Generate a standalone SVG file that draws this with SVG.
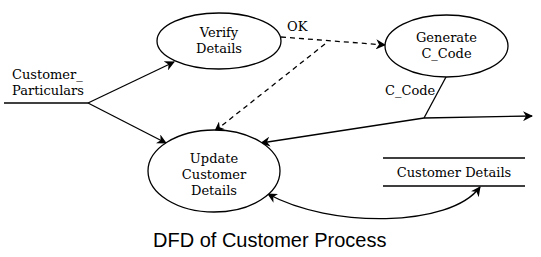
<svg xmlns="http://www.w3.org/2000/svg" width="541" height="257" viewBox="0 0 541 257">
<style>
.n{fill:#fff;stroke:#000;stroke-width:1.3}
.t{font-family:"DejaVu Serif","Liberation Serif",serif;font-size:13px;fill:#000;text-anchor:middle}
.l{font-family:"DejaVu Serif","Liberation Serif",serif;font-size:13px;fill:#000}
.c{fill:none;stroke:#000;stroke-width:1.3}
.d{stroke-dasharray:5,4}
</style>
<defs>
<marker id="a" viewBox="0 0 10 10" refX="9" refY="5" markerWidth="10" markerHeight="10" markerUnits="userSpaceOnUse" orient="auto-start-reverse">
<path d="M0,0 L10,5 L0,10 L3,5 z" fill="#000"/>
</marker>
</defs>
<rect width="541" height="257" fill="#fff"/>
<g id="connectors">
<path class="c" d="M4,103 L88,103"/>
<path class="c" d="M88,103 L174,62" marker-end="url(#a)"/>
<path class="c" d="M88,103 L166,143" marker-end="url(#a)"/>
<path class="c d" d="M281,37 L385,45" marker-end="url(#a)"/>
<path class="c d" d="M325,44 L215,131" marker-end="url(#a)"/>
<path class="c" d="M446,77 L424,118"/>
<path class="c" d="M424,118 L532,116" marker-end="url(#a)"/>
<path class="c" d="M424,118 L261,143" marker-end="url(#a)"/>
<path class="c" d="M268,194 C330,228 450,228 480,187" marker-start="url(#a)" marker-end="url(#a)"/>
<text class="l" x="287" y="31">OK</text>
<text class="l" x="385" y="95">C_Code</text>
<text class="l" x="12" y="79">Customer_</text>
<text class="l" x="12" y="95">Particulars</text>
</g>
<g id="verify">
<ellipse class="n" cx="219" cy="41" rx="62" ry="28"/>
<text class="t" x="219" y="37">Verify</text>
<text class="t" x="219" y="53">Details</text>
</g>
<g id="generate">
<ellipse class="n" cx="446.5" cy="46" rx="61.5" ry="31"/>
<text class="t" x="446.5" y="42">Generate</text>
<text class="t" x="446.5" y="58">C_Code</text>
</g>
<g id="update">
<ellipse class="n" cx="214" cy="171" rx="66" ry="41"/>
<text class="t" x="214" y="163">Update</text>
<text class="t" x="214" y="179">Customer</text>
<text class="t" x="214" y="195">Details</text>
</g>
<g id="store">
<path class="c" d="M383,158 L525,158 M383,186 L525,186"/>
<text class="t" x="454" y="177">Customer Details</text>
</g>
<text x="153" y="247" style="font-family:'Liberation Sans',Arial,sans-serif;font-size:20px;fill:#000">DFD of Customer Process</text>
</svg>
